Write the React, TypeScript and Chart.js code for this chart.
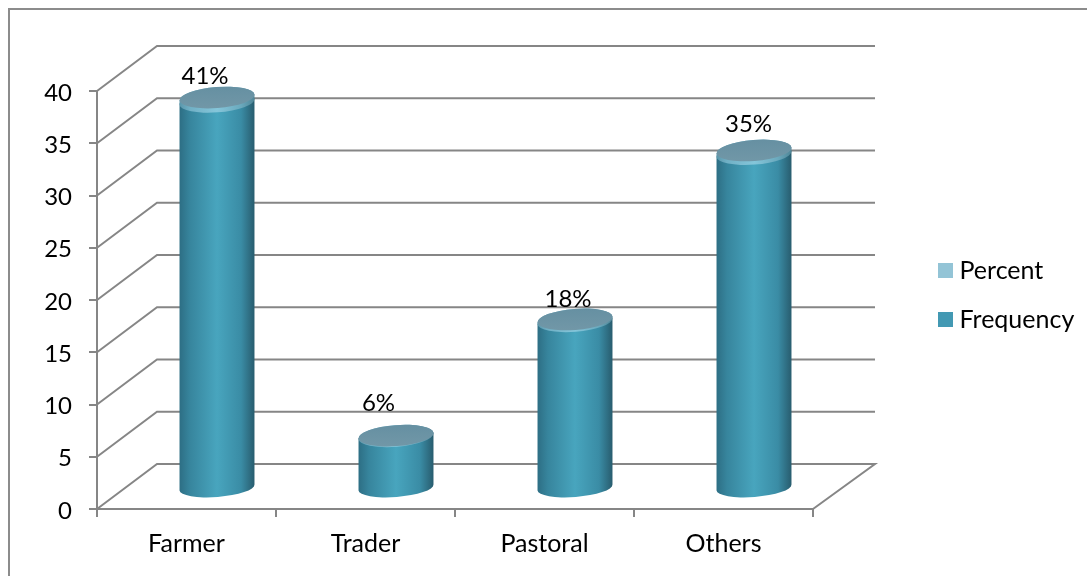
import React, { useEffect, useRef } from "react";
import { Chart, registerables } from "chart.js";

Chart.register(...registerables);

const occupations = ["Farmer", "Trader", "Pastoral", "Others"];
const frequency = [37, 5, 16, 32];
const percent = [0.41, 0.06, 0.18, 0.35];
const yMax = 40;
const yStep = 5;

// Hand placement of the percent captions relative to each cylinder's cap.
const captionNudgeX = [-12, -17.5, -7, -5.5];
const captionNudgeY = [-21, -32, -20, -26];

const FONT = "Lato";
const AXIS_GREY = "#868686";
const WALL_DX = 60;
const WALL_DY = -45;
const BAR_DX = 30.5;
const BAR_DY = -20.5;
const CAP_RY = 10.5;
const BASE_RY = 9.5;
const CAP_TILT = (-4.5 * Math.PI) / 180;

function sideGradient(ctx: CanvasRenderingContext2D, left: number, right: number, stops: string[]) {
  const g = ctx.createLinearGradient(left, 0, right, 0);
  const at = [0, 0.14, 0.5, 0.82, 1];
  stops.forEach((c, i) => g.addColorStop(at[i], c));
  return g;
}

function cylinderBody(
  ctx: CanvasRenderingContext2D,
  cx: number,
  rx: number,
  yTop: number,
  yBase: number,
  baseRy: number,
  fill: CanvasGradient
) {
  ctx.beginPath();
  ctx.ellipse(cx, yBase, rx, baseRy, CAP_TILT, Math.PI, 0, true);
  ctx.ellipse(cx, yTop, rx, CAP_RY, CAP_TILT, 0, Math.PI, true);
  ctx.closePath();
  ctx.fillStyle = fill;
  ctx.fill();
}

// Pseudo-3D back walls and cylinders, placed through the chart's scales.
const depthPlugin = {
  id: "depth",
  afterLayout(chart: any) {
    const legend = chart.legend;
    legend.left = 920;
    legend.right = 1087;
    legend.top = 234;
    legend.bottom = 380;
  },
  beforeDraw(chart: any) {
    const { ctx, width, height } = chart;
    ctx.save();
    ctx.strokeStyle = "#8c8c8c";
    ctx.lineWidth = 2;
    ctx.strokeRect(9, 9, width + 10, height + 10);
    ctx.restore();
  },
  beforeDatasetsDraw(chart: any) {
    const { ctx, scales, chartArea } = chart;
    const y = scales.y;
    ctx.save();
    ctx.strokeStyle = AXIS_GREY;
    ctx.lineWidth = 2;
    for (let v = 0; v <= yMax; v += yStep) {
      const py = y.getPixelForValue(v);
      ctx.beginPath();
      ctx.moveTo(chartArea.left, py);
      ctx.lineTo(chartArea.left + WALL_DX, py + WALL_DY);
      ctx.lineTo(chartArea.right + WALL_DX + 2, py + WALL_DY);
      if (v === 0) ctx.lineTo(chartArea.right, py);
      ctx.stroke();
    }

    const freqBars = chart.getDatasetMeta(0).data;
    const pctBars = chart.getDatasetMeta(1).data;
    freqBars.forEach((bar: any, i: number) => {
      const top = pctBars[i];
      const cx = bar.x + BAR_DX;
      const rx = bar.width / 2;
      const left = cx - rx;
      const right = cx + rx;
      cylinderBody(
        ctx,
        cx,
        rx,
        bar.y + BAR_DY,
        bar.base + BAR_DY,
        BASE_RY,
        sideGradient(ctx, left, right, ["#2d6e84", "#37859d", "#48a5be", "#3a8ca5", "#285c6e"])
      );
      cylinderBody(
        ctx,
        cx,
        rx,
        top.y + BAR_DY,
        top.base + BAR_DY,
        CAP_RY,
        sideGradient(ctx, left, right, ["#5a96aa", "#70b0c5", "#85c6da", "#6aa9bd", "#4f8596"])
      );
      const capY = top.y + BAR_DY;
      const cap = ctx.createLinearGradient(0, capY - CAP_RY, 0, capY + CAP_RY);
      cap.addColorStop(0, "#6690a2");
      cap.addColorStop(1, "#7197a7");
      ctx.beginPath();
      ctx.ellipse(cx, capY, rx, CAP_RY, CAP_TILT, 0, Math.PI * 2);
      ctx.fillStyle = cap;
      ctx.fill();

      ctx.fillStyle = "#000";
      ctx.font = `24px ${FONT}`;
      ctx.textAlign = "center";
      ctx.textBaseline = "middle";
      ctx.fillText(
        `${Math.round(percent[i] * 100)}%`,
        cx + captionNudgeX[i],
        capY + captionNudgeY[i]
      );
    });
    ctx.restore();
    return false;
  },
};

export default function App() {
  const canvasRef = useRef<HTMLCanvasElement>(null);

  useEffect(() => {
    const chart = new Chart(canvasRef.current!, {
      type: "bar",
      plugins: [depthPlugin],
      data: {
        labels: occupations,
        datasets: [
          {
            label: "Frequency",
            data: frequency,
            backgroundColor: "#4399b3",
            borderColor: "#4399b3",
            borderWidth: 12,
            barPercentage: 0.42,
            categoryPercentage: 1,
          },
          {
            label: "Percent",
            data: percent,
            backgroundColor: "#93c4d6",
            borderColor: "#93c4d6",
            borderWidth: 12,
            barPercentage: 0.42,
            categoryPercentage: 1,
          },
        ],
      },
      options: {
        responsive: false,
        animation: false,
        layout: { padding: { top: 91, right: 174, bottom: 0, left: 0 } },
        plugins: {
          tooltip: { enabled: false },
          legend: {
            position: "right",
            align: "start",
            reverse: true,
            maxWidth: 100,
            labels: {
              boxWidth: 3,
              boxHeight: 3,
              padding: 24,
              color: "#000",
              font: { family: FONT, size: 25 },
            },
          },
        },
        scales: {
          x: {
            stacked: true,
            afterFit: (s: any) => {
              s.height = 67;
            },
            border: { color: AXIS_GREY, width: 2 },
            grid: { drawOnChartArea: false, color: AXIS_GREY, lineWidth: 2, tickLength: 8 },
            ticks: { color: "#000", padding: 12, font: { family: FONT, size: 25 } },
          },
          y: {
            stacked: true,
            min: 0,
            max: yMax,
            afterFit: (s: any) => {
              s.width = 97;
            },
            border: { color: AXIS_GREY, width: 2 },
            grid: { drawOnChartArea: false, color: AXIS_GREY, lineWidth: 2, tickLength: 8 },
            ticks: {
              stepSize: yStep,
              color: "#000",
              padding: 17,
              labelOffset: 2,
              font: { family: FONT, size: 24 },
            },
          },
        },
      },
    } as any);
    return () => chart.destroy();
  }, []);

  return (
    <canvas
      ref={canvasRef}
      width={1087}
      height={576}
      style={{ position: "absolute", left: 0, top: 0 }}
    />
  );
}
